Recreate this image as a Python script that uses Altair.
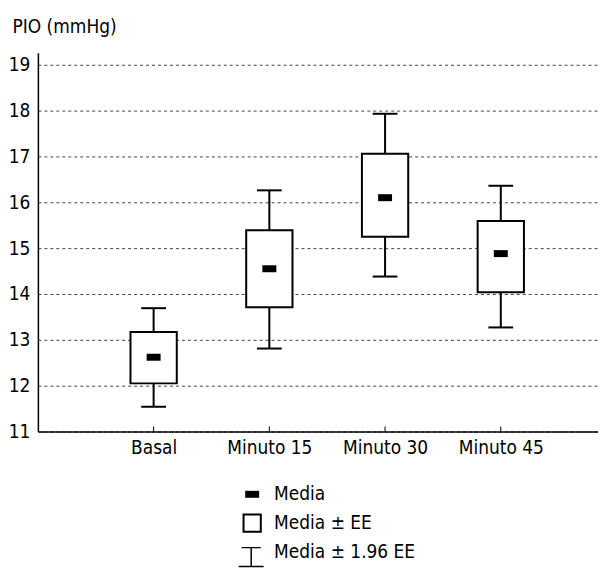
import json
import altair as alt
import pandas as pd

# ---- data ----
categories = ["Basal", "Minuto 15", "Minuto 30", "Minuto 45"]
positions = [1, 2, 3, 4]
media = [12.62, 14.55, 16.10, 14.88]
ee_low = [12.05, 13.71, 15.25, 14.04]
ee_high = [13.17, 15.39, 17.06, 15.59]
ci_low = [11.54, 12.81, 14.38, 13.27]
ci_high = [13.69, 16.26, 17.93, 16.36]

y_ticks = [11, 12, 13, 14, 15, 16, 17, 18, 19]
legend_labels = ["Media", "Media \u00b1 EE", "Media \u00b1 1.96 EE"]
legend_rows = [0, 1, 2]

FONT = "DejaVu Sans Condensed, Liberation Sans Narrow, sans-serif"
FS = 19

df = pd.DataFrame({
    "cat": categories,
    "pos": positions,
    "media": media,
    "ee_low": ee_low,
    "ee_high": ee_high,
    "ci_low": ci_low,
    "ci_high": ci_high,
})
legend_df = pd.DataFrame({"label": legend_labels, "row": legend_rows})

BOX_HALF = 0.2
CAP_HALF = 0.107
RECT_PATH = "M-1,-0.5L1,-0.5L1,0.5L-1,0.5Z"
WHISKER_PATH = "M-0.77,-0.76L0.77,-0.76M0,-0.76L0,0.76M-1,0.76L1,0.76"

x_scale = alt.Scale(domain=[0, 4.84], nice=False, zero=False)
y_scale = alt.Scale(domain=[11, 19.26], nice=False, zero=False)

label_expr = json.dumps(categories) + "[datum.value - 1]"

x_axis = alt.Axis(
    values=positions, labelExpr=label_expr, title=None, grid=False,
    ticks=False, tickSize=0, labelPadding=7, labelFontSize=FS, labelFont=FONT,
    labelColor="black", domainColor="black", domainWidth=1.5, labelAngle=0,
)
y_axis = alt.Axis(
    values=y_ticks, title="PIO (mmHg)", titleAngle=0, titleX=-26, titleY=-20,
    titleAlign="left", titleBaseline="alphabetic", titleFontSize=FS,
    titleFont=FONT, titleFontWeight="normal", titleColor="black",
    grid=True, gridDash=[3, 3], gridColor="#444444", gridWidth=1,
    ticks=False, tickSize=0, labelPadding=8, labelFontSize=FS, labelFont=FONT,
    labelColor="black", domainColor="black", domainWidth=1.5,
)

base = alt.Chart(df)

whisker = base.mark_rule(color="black", strokeWidth=2).encode(
    x=alt.X("pos:Q", scale=x_scale, axis=x_axis),
    y=alt.Y("ci_low:Q", scale=y_scale, axis=y_axis),
    y2="ci_high:Q",
)

caps_lo = base.transform_calculate(
    xl=f"datum.pos - {CAP_HALF}", xr=f"datum.pos + {CAP_HALF}"
).mark_rule(color="black", strokeWidth=2).encode(
    x=alt.X("xl:Q", scale=x_scale), x2="xr:Q", y=alt.Y("ci_low:Q", scale=y_scale)
)
caps_hi = base.transform_calculate(
    xl=f"datum.pos - {CAP_HALF}", xr=f"datum.pos + {CAP_HALF}"
).mark_rule(color="black", strokeWidth=2).encode(
    x=alt.X("xl:Q", scale=x_scale), x2="xr:Q", y=alt.Y("ci_high:Q", scale=y_scale)
)

box = base.transform_calculate(
    bl=f"datum.pos - {BOX_HALF}", br=f"datum.pos + {BOX_HALF}"
).mark_rect(fill="white", stroke="black", strokeWidth=2).encode(
    x=alt.X("bl:Q", scale=x_scale), x2="br:Q",
    y=alt.Y("ee_low:Q", scale=y_scale), y2="ee_high:Q",
)

mean_mark = base.mark_point(
    shape=RECT_PATH, filled=True, color="black", size=196, opacity=1
).encode(
    x=alt.X("pos:Q", scale=x_scale), y=alt.Y("media:Q", scale=y_scale)
)

ticks = base.mark_rule(color="black", strokeWidth=1).encode(
    x=alt.X("pos:Q", scale=x_scale),
    y=alt.datum(11, scale=y_scale),
    y2=alt.datum(11.11),
)

main = alt.layer(whisker, caps_lo, caps_hi, box, mean_mark, ticks)

# ---- legend below the plot ----
leg_y = alt.Y("row:Q", scale=alt.Scale(domain=[0, 2], range=[443, 501]), axis=None)
leg = alt.Chart(legend_df)
leg_media = leg.transform_filter(alt.datum.row == 0).mark_point(
    shape=RECT_PATH, filled=True, color="black", size=196, opacity=1
).encode(x=alt.value(215), y=leg_y)
leg_box = leg.transform_filter(alt.datum.row == 1).mark_point(
    shape="square", filled=False, color="black", size=300, strokeWidth=2, opacity=1
).encode(x=alt.value(215), y=leg_y)
leg_whisk = leg.transform_filter(alt.datum.row == 2).mark_point(
    shape=WHISKER_PATH, filled=False, color="black", size=625, strokeWidth=1.5,
    opacity=1, yOffset=5,
).encode(x=alt.value(214), y=leg_y)
leg_text = leg.mark_text(
    align="left", baseline="middle", fontSize=FS, font=FONT, color="black"
).encode(x=alt.value(237), y=leg_y, text="label:N")

legend = alt.layer(leg_media, leg_box, leg_whisk, leg_text)

chart = alt.layer(main, legend).resolve_scale(y="independent").properties(
    width=562, height=380,
    padding={"left": 0, "top": 9, "right": 0, "bottom": 0},
    background="white",
).configure_view(stroke=None)

chart.save("out.html", embed_options={"renderer": "svg", "actions": False})
